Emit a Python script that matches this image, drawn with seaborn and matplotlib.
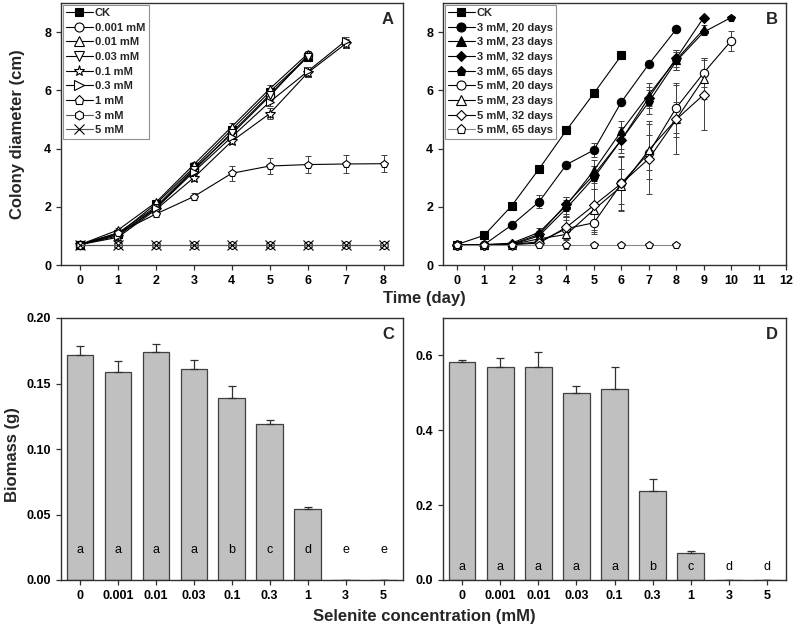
import numpy as np
import pandas as pd
import matplotlib
matplotlib.use("Agg")
import matplotlib.pyplot as plt
import seaborn as sns
from matplotlib.lines import Line2D

# ---------------- data ----------------
# Panel A: colony diameter (cm) vs time (day) for selenite concentrations
a_labels = ["CK", "0.001 mM", "0.01 mM", "0.03 mM", "0.1 mM", "0.3 mM", "1 mM", "3 mM", "5 mM"]
a_ck = [0.7, 1.05, 2.1, 3.35, 4.65, 5.95, 7.15]
a_0001 = [0.7, 1.1, 2.0, 3.3, 4.5, 5.8, 7.2]
a_001 = [0.7, 1.2, 2.15, 3.45, 4.75, 6.05, 7.25]
a_003 = [0.7, 1.05, 1.95, 3.25, 4.55, 5.85, 7.15]
a_01 = [0.7, 0.95, 1.9, 3.0, 4.25, 5.2, 6.6, 7.6]
a_03 = [0.7, 1.0, 1.95, 3.2, 4.4, 5.6, 6.65, 7.7]
a_1 = [0.7, 1.1, 1.75, 2.35, 3.15, 3.4, 3.45, 3.47, 3.48]
a_3 = [0.7, 0.7, 0.7, 0.7, 0.7, 0.7, 0.7, 0.7, 0.7]
a_5 = [0.7, 0.7, 0.7, 0.7, 0.7, 0.7, 0.7, 0.7, 0.7]
a_err_ck = [0.03, 0.05, 0.08, 0.1, 0.12, 0.12, 0.12]
a_err_0001 = [0.03, 0.05, 0.08, 0.1, 0.12, 0.12, 0.1]
a_err_001 = [0.03, 0.06, 0.08, 0.1, 0.12, 0.12, 0.1]
a_err_003 = [0.03, 0.05, 0.08, 0.1, 0.1, 0.12, 0.1]
a_err_01 = [0.03, 0.1, 0.08, 0.12, 0.1, 0.2, 0.15, 0.15]
a_err_03 = [0.03, 0.06, 0.08, 0.1, 0.12, 0.15, 0.15, 0.12]
a_err_1 = [0.03, 0.08, 0.1, 0.12, 0.25, 0.28, 0.3, 0.3, 0.3]
a_err_3 = [0.0] * 9
a_err_5 = [0.0] * 9

# Panel B: recovery growth after transfer
b_labels = ["CK", "3 mM, 20 days", "3 mM, 23 days", "3 mM, 32 days", "3 mM, 65 days",
            "5 mM, 20 days", "5 mM, 23 days", "5 mM, 32 days", "5 mM, 65 days"]
b_ck = [0.7, 1.02, 2.03, 3.3, 4.63, 5.9, 7.2]
b_3_20 = [0.7, 0.7, 1.37, 2.17, 3.45, 3.95, 5.6, 6.9, 8.1]
b_3_23 = [0.7, 0.7, 0.75, 1.12, 2.05, 3.25, 4.6, 5.85, 7.05, 8.1]
b_3_32 = [0.7, 0.7, 0.72, 1.05, 2.1, 3.1, 4.3, 5.75, 7.1, 8.5]
b_3_65 = [0.7, 0.7, 0.7, 1.0, 1.95, 3.0, 4.3, 5.6, 7.0, 8.0, 8.5]
b_5_20 = [0.7, 0.7, 0.7, 0.8, 1.25, 1.45, 2.8, 3.85, 5.4, 6.6, 7.7]
b_5_23 = [0.7, 0.7, 0.7, 0.9, 1.05, 1.9, 2.7, 3.95, 5.0, 6.4]
b_5_32 = [0.7, 0.7, 0.7, 0.75, 1.3, 2.05, 2.8, 3.65, 5.0, 5.85]
b_5_65 = [0.7, 0.7, 0.7, 0.7, 0.7, 0.7, 0.7, 0.7, 0.7]
b_err_ck = [0.02, 0.03, 0.05, 0.06, 0.06, 0.12, 0.12]
b_err_3_20 = [0.02, 0.02, 0.08, 0.22, 0.08, 0.25, 0.08, 0.08, 0.08]
b_err_3_23 = [0.02, 0.02, 0.05, 0.15, 0.3, 0.35, 0.35, 0.4, 0.35, 0.15]
b_err_3_32 = [0.02, 0.02, 0.05, 0.12, 0.25, 0.3, 0.3, 0.35, 0.3, 0.05]
b_err_3_65 = [0.02, 0.02, 0.05, 0.12, 0.3, 0.4, 0.45, 0.4, 0.3, 0.1, 0.05]
b_err_5_20 = [0.02, 0.02, 0.05, 0.1, 0.4, 0.4, 0.95, 0.6, 0.85, 0.5, 0.35]
b_err_5_23 = [0.02, 0.02, 0.05, 0.15, 0.5, 0.7, 0.6, 1.0, 1.2, 0.7]
b_err_5_32 = [0.02, 0.02, 0.05, 0.1, 0.4, 0.9, 0.9, 1.2, 0.6, 1.2]
b_err_5_65 = [0.0] * 9

# Panels C, D: biomass
conc = ["0", "0.001", "0.01", "0.03", "0.1", "0.3", "1", "3", "5"]
c_biomass = [0.172, 0.159, 0.174, 0.161, 0.139, 0.119, 0.054, 0.0, 0.0]
c_err = [0.007, 0.008, 0.006, 0.007, 0.009, 0.003, 0.002, 0.0, 0.0]
c_letters = ["a", "a", "a", "a", "b", "c", "d", "e", "e"]
d_biomass = [0.582, 0.568, 0.570, 0.500, 0.510, 0.237, 0.071, 0.0, 0.0]
d_err = [0.006, 0.024, 0.040, 0.017, 0.058, 0.033, 0.007, 0.0, 0.0]
d_letters = ["a", "a", "a", "a", "a", "b", "c", "d", "d"]

# ---------------- style ----------------
sns.set_style("ticks")
plt.rcParams["font.family"] = ["Liberation Sans", "DejaVu Sans"]
plt.rcParams["font.weight"] = "bold"
plt.rcParams["axes.linewidth"] = 1.0
plt.rcParams["axes.edgecolor"] = "#303030"
plt.rcParams["xtick.color"] = "#303030"
plt.rcParams["ytick.color"] = "#303030"
plt.rcParams["xtick.labelcolor"] = "black"
plt.rcParams["ytick.labelcolor"] = "black"
plt.rcParams["xtick.major.size"] = 3.5
plt.rcParams["ytick.major.size"] = 3.5

fig = plt.figure(figsize=(7.96, 6.30), dpi=100)
W, H = 796.0, 630.0


def add_ax(l, r, t, b):
    return fig.add_axes([l / W, 1 - b / H, (r - l) / W, (b - t) / H])


axA = add_ax(61, 402.5, 3, 265)
axB = add_ax(443, 786, 3, 265)
axC = add_ax(61, 402.5, 318, 580)
axD = add_ax(443, 786, 318, 580)

TICKFS = 9
LEGFS = 8


def msize(mk):
    return {"*": 7.5, "D": 5.0, "s": 5.5, "x": 6.5}.get(mk, 6.0)


def plot_series(ax, vals, errs, label, marker, filled, color="black"):
    x = np.arange(len(vals))
    df = pd.DataFrame({"day": x, "d": vals})
    ax.errorbar(x, vals, yerr=errs, fmt="none", ecolor="#404040", elinewidth=0.7,
                capsize=2.5, capthick=0.7, zorder=2)
    sns.lineplot(data=df, x="day", y="d", ax=ax, color=color, lw=0.8,
                 marker=marker, markersize=msize(marker),
                 markerfacecolor=("black" if filled else "white"),
                 markeredgecolor="black", markeredgewidth=0.8,
                 label=label, zorder=3, legend=False)


def make_legend(ax, handles):
    leg = ax.legend(handles=handles, loc="upper left", fontsize=LEGFS, frameon=True,
                    fancybox=False, edgecolor="#909090", borderaxespad=0.15,
                    handlelength=2.4, handletextpad=0.2, labelspacing=0.42,
                    borderpad=0.3, framealpha=1)
    leg.get_frame().set_linewidth(0.8)
    for t in leg.get_texts():
        t.set_fontweight("bold")


# Panel A
a_vals = [a_ck, a_0001, a_001, a_003, a_01, a_03, a_1, a_3, a_5]
a_errs = [a_err_ck, a_err_0001, a_err_001, a_err_003, a_err_01, a_err_03, a_err_1, a_err_3, a_err_5]
a_markers = ["s", "o", "^", "v", "*", ">", "p", "h", "x"]
a_filled = [True] + [False] * 8
a_colors = ["black"] * 6 + ["black", "#555555", "#555555"]
handles = []
for v, e, lab, mk, fl, col in zip(a_vals, a_errs, a_labels, a_markers, a_filled, a_colors):
    plot_series(axA, v, e, lab, mk, fl, col)
    handles.append(Line2D([], [], color=col, lw=0.8, marker=mk, markersize=msize(mk) + 0.5,
                          markerfacecolor=("black" if fl else "white"),
                          markeredgecolor="black", markeredgewidth=0.8, label=lab))
axA.set_xlim(-0.5, 8.5)
axA.set_ylim(0, 9)
axA.set_xticks(range(0, 9))
axA.set_yticks([0, 2, 4, 6, 8])
make_legend(axA, handles)

# Panel B
b_vals = [b_ck, b_3_20, b_3_23, b_3_32, b_3_65, b_5_20, b_5_23, b_5_32, b_5_65]
b_errs = [b_err_ck, b_err_3_20, b_err_3_23, b_err_3_32, b_err_3_65, b_err_5_20,
          b_err_5_23, b_err_5_32, b_err_5_65]
b_markers = ["s", "o", "^", "D", "p", "o", "^", "D", "p"]
b_filled = [True, True, True, True, True, False, False, False, False]
b_colors = ["black"] * 8 + ["#888888"]
handles = []
for v, e, lab, mk, fl, col in zip(b_vals, b_errs, b_labels, b_markers, b_filled, b_colors):
    plot_series(axB, v, e, lab, mk, fl, col)
    handles.append(Line2D([], [], color=col, lw=0.8, marker=mk, markersize=msize(mk) + 0.5,
                          markerfacecolor=("black" if fl else "white"),
                          markeredgecolor="black", markeredgewidth=0.8, label=lab))
axB.set_xlim(-0.5, 12)
axB.set_ylim(0, 9)
axB.set_xticks(range(0, 13))
axB.set_yticks([0, 2, 4, 6, 8])
make_legend(axB, handles)

for ax in (axA, axB):
    ax.set_xlabel("")
    ax.set_ylabel("")


# Panels C, D
def bar_panel(ax, vals, errs, letters, ylim, yticks, fmt, letter_y):
    df = pd.DataFrame({"conc": conc, "biomass": vals})
    sns.barplot(data=df, x="conc", y="biomass", ax=ax, color="#c0c0c0",
                edgecolor="#404040", linewidth=0.9, width=0.7, errorbar=None,
                saturation=1)
    x = np.arange(len(vals))
    ax.errorbar(x, vals, yerr=[np.zeros(len(vals)), errs], fmt="none",
                ecolor="#303030", elinewidth=0.9, capsize=3, capthick=0.9)
    for xi, lt in zip(x, letters):
        ax.text(xi, letter_y, lt, ha="center", va="center", fontsize=9,
                fontweight="normal", color="black")
    ax.set_xlim(-0.5, 8.5)
    ax.set_ylim(*ylim)
    ax.set_yticks(yticks)
    ax.set_yticklabels([fmt.format(v) for v in yticks])
    ax.set_xlabel("")
    ax.set_ylabel("")


bar_panel(axC, c_biomass, c_err, c_letters, (0, 0.20),
          [0.0, 0.05, 0.10, 0.15, 0.20], "{:.2f}", 0.023)
bar_panel(axD, d_biomass, d_err, d_letters, (0, 0.70),
          [0.0, 0.2, 0.4, 0.6], "{:.1f}", 0.035)

for ax, letter in zip((axA, axB, axC, axD), "ABCD"):
    for side in ("top", "right", "left", "bottom"):
        ax.spines[side].set_visible(True)
    ax.tick_params(axis="both", which="both", direction="out", labelsize=TICKFS,
                   top=False, right=False, width=0.9)
    for lab in ax.get_xticklabels() + ax.get_yticklabels():
        lab.set_fontweight("bold")
    ax.text(0.975, 0.965, letter, transform=ax.transAxes, ha="right", va="top",
            fontsize=12, fontweight="bold")

fig.text(424 / W, 1 - 299 / H, "Time (day)", ha="center", va="center",
         fontsize=12, fontweight="bold")
fig.text(424 / W, 1 - 617 / H, "Selenite concentration (mM)", ha="center",
         va="center", fontsize=12, fontweight="bold")
fig.text(18 / W, 1 - 134 / H, "Colony diameter (cm)", ha="center", va="center",
         rotation=90, fontsize=12, fontweight="bold")
fig.text(13 / W, 1 - 455 / H, "Biomass (g)", ha="center", va="center",
         rotation=90, fontsize=12, fontweight="bold")

fig.savefig("out.png", dpi=100)
